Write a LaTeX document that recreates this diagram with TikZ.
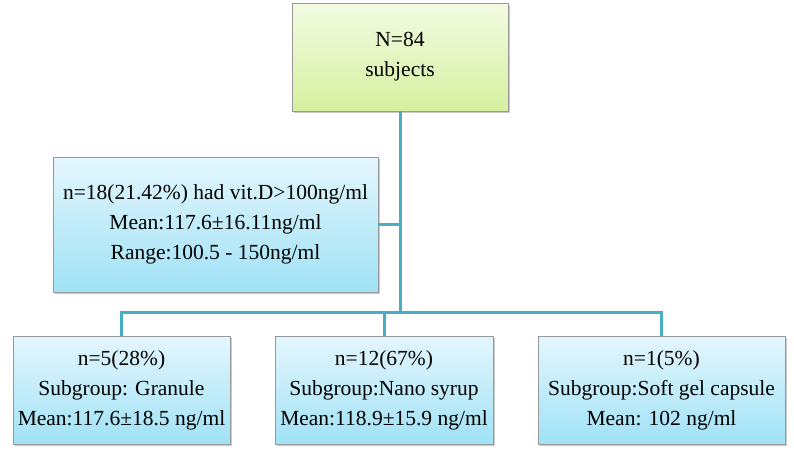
\documentclass[tikz,border=0pt]{standalone}
\usepackage{fontspec}
\setmainfont{Liberation Serif}
\usepackage{tikz}
\usetikzlibrary{shadows}
\usetikzlibrary{positioning}
\definecolor{linkblue}{RGB}{75,172,198}
\definecolor{greentop}{RGB}{243,251,226}
\definecolor{greenbot}{RGB}{214,240,160}
\definecolor{bluetop}{RGB}{228,246,253}
\definecolor{bluebot}{RGB}{160,226,246}
\tikzstyle{boxbase}=[draw=black!40, line width=0.8pt, rectangle, align=center,
					font=\fontsize{21.5}{30}\selectfont, inner sep=0pt,
					drop shadow={shadow xshift=2pt, shadow yshift=-2pt, opacity=0.35, fill=black!60}]

\begin{document}
\begin{tikzpicture}[x=1pt, y=-1pt,
 greenbox/.style={boxbase, top color=greentop, bottom color=greenbot, minimum width=216pt, minimum height=108pt},
 bluebox/.style={boxbase, top color=bluetop, bottom color=bluebot, minimum height=108pt},
 link/.style={draw=linkblue, line width=3pt}
 ]
 \useasboundingbox (0,0) rectangle (794,453);

 %Nodes
 \node[greenbox]  (total_node)  at (400,57)   {N=84\\subjects};
 \node[bluebox, minimum width=325pt, minimum height=135pt] (high_node) at (215.5,224.5)
   {n=18(21.42\%) had vit.D>100ng/ml\\Mean:117.6±16.11ng/ml\\Range:100.5 - 150ng/ml};
 \node[bluebox, minimum width=217pt]  (granule_node)  at (121.5,390) {n=5(28\%)\\Subgroup: Granule\\Mean:117.6±18.5 ng/ml};
 \node[bluebox, minimum width=218pt]  (syrup_node)    at (384,390)   {n=12(67\%)\\Subgroup:Nano syrup\\Mean:118.9±15.9 ng/ml};
 \node[bluebox, minimum width=247pt]  (capsule_node)  at (661.5,390) {n=1(5\%)\\Subgroup:Soft gel capsule\\Mean: 102 ng/ml};
 \coordinate (split_point) at (400,312);

 %Lines
 \draw[link] (total_node.south) -- (split_point);
 \draw[link] (high_node.east) -- (high_node.east -| split_point);
 \draw[link] (split_point) -| (granule_node.north);
 \draw[link] (split_point) -| (syrup_node.north);
 \draw[link] (split_point) -| (capsule_node.north);
\end{tikzpicture}
\end{document}
